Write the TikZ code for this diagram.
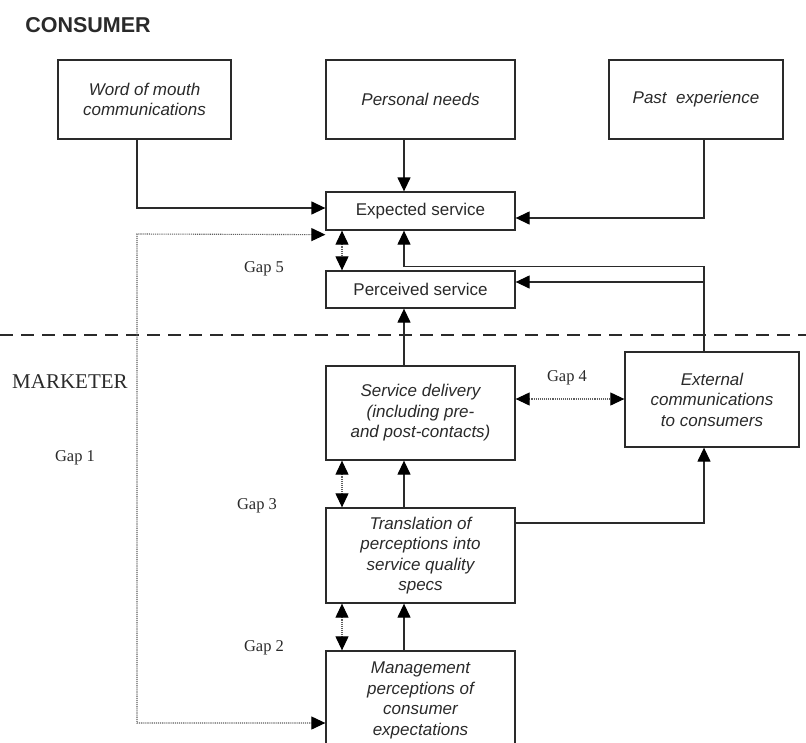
\documentclass[tikz,border=0pt]{standalone}
\usepackage{fontspec}
\setmainfont{Liberation Serif}
\newfontfamily\arialf{Liberation Sans}
\usetikzlibrary{arrows.meta}
\definecolor{ink}{HTML}{2A2A2A}
\begin{document}
\begin{tikzpicture}[x=1pt,y=-1pt,
  box/.style={draw=ink, line width=1.3pt, align=center, text=ink, inner sep=0pt,
    font=\arialf\itshape\fontsize{17}{20.5}\selectfont},
  ubox/.style={box, font=\arialf\fontsize{17}{20.5}\selectfont},
  arr/.style={draw=ink, line width=1.3pt, -{Triangle[length=14pt,width=13pt,color=black]}},
  dotarr/.style={draw=ink!75, line width=1.1pt, densely dotted,
    {Triangle[length=14pt,width=13pt,color=black]}-{Triangle[length=14pt,width=13pt,color=black]}},
  gaplbl/.style={text=ink, inner sep=0pt, font=\fontsize{16.5}{19}\selectfont}]
\clip (0,0) rectangle (806,742);
\fill[white] (0,0) rectangle (806,742);

% titles
\node[text=ink, font=\arialf\bfseries\fontsize{21.5}{24}\selectfont, inner sep=0pt] (consumer) at (88,25) {CONSUMER};
\node[text=ink, font=\fontsize{21}{24}\selectfont, inner sep=0pt] (marketer) at (70,382) {MARKETER};

% dashed separator
\coordinate (dl) at (0,335);
\coordinate (dr) at (806,335);
\draw[ink, line width=2.6pt, dash pattern=on 13pt off 8pt] (dl) -- (dr);

% boxes
\node[box, minimum width=173pt, minimum height=79pt] (wom) at (144.5,99.5) {Word of mouth\\communications};
\node[box, minimum width=189pt, minimum height=79pt] (pn) at (420.5,99.5) {Personal needs};
\node[box, minimum width=174pt, minimum height=79pt] (past) at (696,99.5) {Past~ experience};
\node[ubox, minimum width=189pt, minimum height=38pt] (exp) at (420.5,211) {Expected service};
\node[ubox, minimum width=189pt, minimum height=37pt] (perc) at (420.5,289.5) {Perceived service};
\node[box, minimum width=189pt, minimum height=94pt] (sd) at (420.5,413) {Service delivery\\(including pre-\\and post-contacts)};
\node[box, minimum width=174pt, minimum height=95pt] (ext) at (712,399.5) {External\\communications\\to consumers};
\node[box, minimum width=189pt, minimum height=95pt] (tr) at (420.5,555.5) {Translation of\\perceptions into\\service quality\\specs};
\node[box, minimum width=189pt, minimum height=99pt] (mg) at (420.5,700.5) {Management\\perceptions of\\consumer\\expectations};

% gap labels
\node[gaplbl] (g1) at (75,458) {Gap 1};
\node[gaplbl] (g2) at (264,648) {Gap 2};
\node[gaplbl] (g3) at (257,506) {Gap 3};
\node[gaplbl] (g4) at (567,378) {Gap 4};
\node[gaplbl] (g5) at (264,269) {Gap 5};

% consumer side connectors
\draw[arr] ([xshift=-7.5pt]wom.south) |- ([yshift=3pt]exp.west);
\draw[arr] ([xshift=-16.5pt]pn.south) -- ([xshift=-16.5pt]exp.north);
\draw[arr] ([xshift=8pt]past.south) |- ([yshift=-7pt]exp.east);
\draw[dotarr] ([xshift=-78.5pt]exp.south) -- ([xshift=-78.5pt]perc.north);

% external communications feedback
\draw[arr] ([xshift=-8pt]ext.north) |- ([xshift=-16.5pt,yshift=-36pt]exp.south) -- ([xshift=-16.5pt]exp.south);
\coordinate (j) at (704,282);
\draw[arr] (j) -- ([yshift=7.5pt]perc.east);

% marketer side
\draw[arr] ([xshift=-16.5pt]sd.north) -- ([xshift=-16.5pt]perc.south);
\draw[dotarr] ([yshift=14pt]sd.east) -- ([yshift=0.5pt]ext.west);
\draw[arr] ([xshift=-16.5pt]tr.north) -- ([xshift=-16.5pt]sd.south);
\draw[dotarr] ([xshift=-78.5pt]sd.south) -- ([xshift=-78.5pt]tr.north);
\draw[arr] ([yshift=32.5pt]tr.east) -| ([xshift=-8pt]ext.south);
\draw[arr] ([xshift=-16.5pt]mg.north) -- ([xshift=-16.5pt]tr.south);
\draw[dotarr] ([xshift=-78.5pt]tr.south) -- ([xshift=-78.5pt]mg.north);

% gap 1 dotted loop
\coordinate (c1) at (137,234);
\coordinate (c2) at (137,723);
\draw[dotarr] ([yshift=-4pt]exp.south west) -- (c1) -- (c2) -- ([yshift=-22.5pt]mg.west);
\end{tikzpicture}
\end{document}
